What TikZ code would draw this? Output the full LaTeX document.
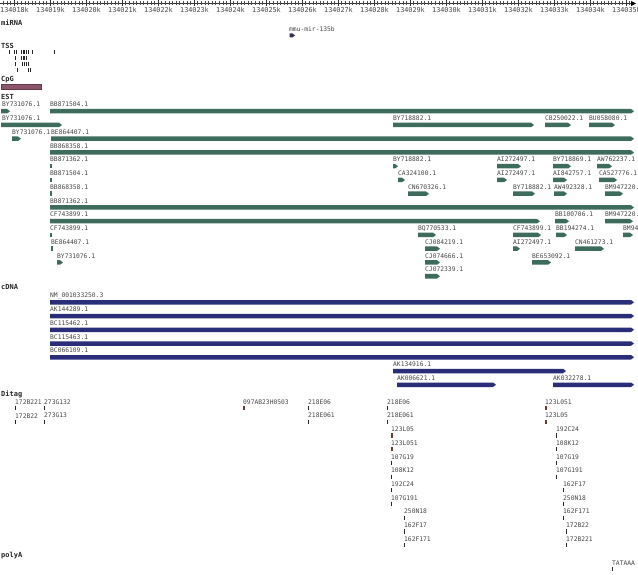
\documentclass[tikz,border=0pt]{standalone}
\usepackage{fontspec}
\newfontfamily\labf{DejaVu Sans Mono}
\definecolor{estc}{RGB}{62,108,92}
\definecolor{cdnac}{RGB}{42,45,120}
\definecolor{cpgc}{RGB}{140,85,108}
\definecolor{ditb}{RGB}{105,60,50}
\definecolor{mirc}{RGB}{50,50,85}
\newcounter{fc}
\tikzset{
  lbl/.style={font=\labf\fontsize{6.3}{7}\selectfont, text=black!72, anchor=west, inner sep=0pt},
  ttl/.style={font=\labf\bfseries\fontsize{7}{8}\selectfont, text=black!85, anchor=west, inner sep=0pt},
  rul/.style={font=\labf\fontsize{6.8}{7}\selectfont, text=black!72, inner sep=0pt},
  thinmark/.style={line width=0.9pt, black!85},
  thickmark/.style={line width=2pt, ditb},
}
% arrow bar: color, x1, x2, ytop
\newcommand\fbar[4]{\fill[#1] (#2,#4) -- ({#3-3},#4) -- (#3,{#4+2.25}) -- ({#3-3},{#4+4.5}) -- (#2,{#4+4.5}) -- cycle;}
% feature with label: color, ycenter, labelx, text, x1, x2
\newcommand\ef[6]{\stepcounter{fc}\node[lbl] (f\arabic{fc}) at (#3,#2) {#4};\fbar{#1}{#5}{#6}{#2+4.5}}
% short mark with label: color, ycenter, labelx, text, x
\newcommand\emk[5]{\stepcounter{fc}\node[lbl] (f\arabic{fc}) at (#3,#2) {#4};\fill[#1] (#5,{#2+4.5}) rectangle ({#5+2},{#2+9});}
% ditag: ycenter, x, text, style
\newcommand\dtg[4]{\stepcounter{fc}\node[lbl] (f\arabic{fc}) at (#2,#1) {#3};\draw[#4] ({#2+0.6},{#1+4}) -- ({#2+0.6},{#1+8.2});}
\begin{document}
\begin{tikzpicture}[x=1pt,y=-1pt]
\useasboundingbox (0,0) rectangle (638,575);
\fill[white] (0,0) rectangle (638,575);
% ruler
\draw[line width=0.6pt, black!80] (0,3.5) -- (632,3.5);
\fill[black] (631,1) -- (636,3.5) -- (631,6) -- cycle;
\foreach \i in {-3,...,171} {\draw[line width=0.4pt, black!70] ({14+3.6*\i},1.5) -- ({14+3.6*\i},5.5);}
\foreach \k [evaluate=\k as \n using int(18+\k)] in {0,...,17} {
  \draw[line width=0.6pt, black!80] ({14+36*\k},0.5) -- ({14+36*\k},6.5);
  \node[rul] (r\k) at ({14.5+36*\k},10) {1340\n k};
}
% track titles
\node[ttl] (tmirna) at (1,22.5) {miRNA};
\node[ttl] (ttss) at (1,46) {TSS};
\node[ttl] (tcpg) at (1,79.5) {CpG};
\node[ttl] (test) at (1,97) {EST};
\node[ttl] (tcdna) at (1,286.5) {cDNA};
\node[ttl] (tditag) at (1,394) {Ditag};
\node[ttl] (tpolya) at (1,555.5) {polyA};
% miRNA
\node[lbl] (mir) at (289,29) {mmu-mir-135b};
\fill[mirc] (289.5,33.5) -- (292.5,33.5) -- (295,35.5) -- (292.5,37.5) -- (289.5,37.5) -- cycle;
% TSS
\foreach \x in {9.5,14,16,21,23,24.5,26,28,32,54} {\draw[thinmark] (\x,50) -- (\x,54);}
\foreach \x in {15,21,23,24.5,26} {\draw[thinmark] (\x,56) -- (\x,60);}
\foreach \x in {15,22,24,26,28} {\draw[thinmark] (\x,62) -- (\x,66);}
\foreach \x in {17,28,30} {\draw[thinmark] (\x,68) -- (\x,72);}
% CpG
\fill[cpgc] (1,84) rectangle (41,89);
\draw[cpgc!70!black, line width=0.4pt] (1,84) rectangle (41,89);
% EST
\ef{estc}{104.5}{2}{BY731076.1}{1}{10}
\ef{estc}{104.5}{50}{BB871504.1}{50}{634}
\ef{estc}{118.25}{2}{BY731076.1}{1}{62}
\ef{estc}{118.25}{393}{BY718882.1}{393}{534}
\ef{estc}{118.25}{545}{CB250022.1}{545}{571}
\ef{estc}{118.25}{589}{BU058080.1}{589}{615}
\ef{estc}{132}{12}{BY731076.1}{12}{21}
\ef{estc}{132}{51}{BE864407.1}{51}{634}
\ef{estc}{145.75}{50}{BB868358.1}{50}{634}
\emk{estc}{159.5}{50}{BB871362.1}{50}
\ef{estc}{159.5}{393}{BY718882.1}{393}{398}
\ef{estc}{159.5}{497}{AI272497.1}{497}{521}
\ef{estc}{159.5}{553}{BY718869.1}{553}{571}
\ef{estc}{159.5}{597}{AW762237.1}{597}{612}
\emk{estc}{173.25}{50}{BB871504.1}{50}
\ef{estc}{173.25}{398}{CA324100.1}{398}{405}
\ef{estc}{173.25}{497}{AI272497.1}{497}{507}
\ef{estc}{173.25}{553}{AI842757.1}{553}{567}
\ef{estc}{173.25}{599}{CA527776.1}{599}{617}
\emk{estc}{187}{50}{BB868358.1}{50}
\ef{estc}{187}{408}{CN670326.1}{408}{429}
\ef{estc}{187}{513}{BY718882.1}{513}{535}
\ef{estc}{187}{554}{AW492328.1}{554}{567}
\ef{estc}{187}{605}{BM947220.1}{605}{623}
\ef{estc}{200.75}{50}{BB871362.1}{50}{634}
\ef{estc}{214.5}{50}{CF743899.1}{50}{540}
\ef{estc}{214.5}{555}{BB100706.1}{555}{569}
\ef{estc}{214.5}{605}{BM947220.1}{605}{633}
\emk{estc}{228.25}{50}{CF743899.1}{50}
\ef{estc}{228.25}{418}{BQ770533.1}{418}{436}
\ef{estc}{228.25}{513}{CF743899.1}{513}{541}
\ef{estc}{228.25}{556}{BB194274.1}{556}{567}
\ef{estc}{228.25}{623}{BM947220.1}{623}{633}
\emk{estc}{242}{51}{BE864407.1}{51}
\ef{estc}{242}{425}{CJ084219.1}{425}{440}
\ef{estc}{242}{513}{AI272497.1}{513}{520}
\ef{estc}{242}{575}{CN461273.1}{575}{604}
\ef{estc}{255.75}{57}{BY731076.1}{57}{63}
\ef{estc}{255.75}{425}{CJ074666.1}{425}{440}
\ef{estc}{255.75}{532}{BE653092.1}{532}{551}
\ef{estc}{269.5}{425}{CJ072339.1}{425}{440}
% cDNA
\ef{cdnac}{295.5}{50}{NM\_001033250.3}{50}{634}
\ef{cdnac}{309.25}{50}{AK144289.1}{50}{634}
\ef{cdnac}{323}{50}{BC115462.1}{50}{634}
\ef{cdnac}{336.75}{50}{BC115463.1}{50}{634}
\ef{cdnac}{350.5}{50}{BC066109.1}{50}{634}
\ef{cdnac}{364.25}{393}{AK134916.1}{393}{566}
\ef{cdnac}{378}{397}{AK006621.1}{397}{496}
\ef{cdnac}{378}{553}{AK032278.1}{553}{634}
% Ditag
\dtg{402}{15}{172B221}{thinmark}
\dtg{402}{44}{273G132}{thinmark}
\dtg{402}{243}{097AB23H0503}{thickmark}
\dtg{402}{308}{218E06}{thinmark}
\dtg{402}{387}{218E06}{thinmark}
\dtg{402}{545}{123L051}{thickmark}
\dtg{415.7}{15}{172B22}{thinmark}
\dtg{415.7}{44}{273G13}{thinmark}
\dtg{415.7}{308}{218E061}{thinmark}
\dtg{415.7}{387}{218E061}{thinmark}
\dtg{415.7}{545}{123L05}{thickmark}
\dtg{429.4}{391}{123L05}{thickmark}
\dtg{429.4}{556}{192C24}{thinmark}
\dtg{443.1}{391}{123L051}{thickmark}
\dtg{443.1}{556}{108K12}{thinmark}
\dtg{456.8}{391}{107G19}{thinmark}
\dtg{456.8}{556}{107G19}{thinmark}
\dtg{470.5}{391}{108K12}{thinmark}
\dtg{470.5}{556}{107G191}{thinmark}
\dtg{484.2}{391}{192C24}{thinmark}
\dtg{484.2}{563}{162F17}{thinmark}
\dtg{497.9}{391}{107G191}{thinmark}
\dtg{497.9}{563}{250N18}{thinmark}
\dtg{511.6}{404}{250N18}{thinmark}
\dtg{511.6}{563}{162F171}{thinmark}
\dtg{525.3}{404}{162F17}{thinmark}
\dtg{525.3}{566}{172B22}{thinmark}
\dtg{539}{404}{162F171}{thinmark}
\dtg{539}{566}{172B221}{thinmark}
% polyA
\dtg{563}{612}{TATAAA}{thinmark}
\end{tikzpicture}
\end{document}
